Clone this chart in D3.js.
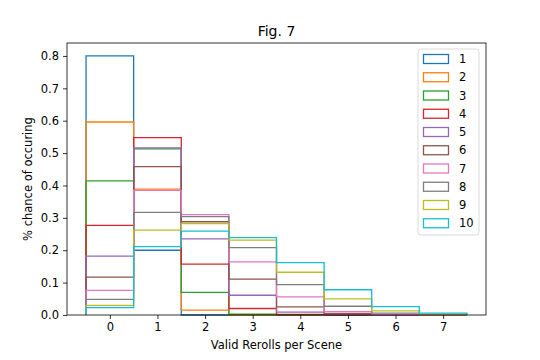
<!DOCTYPE html>
<html>
<head>
<meta charset="utf-8">
<script src="https://cdn.jsdelivr.net/npm/d3@7"></script>
<style>
  body { margin: 0; background: #fff; }
  svg { display: block; }
  text { font-family: "DejaVu Sans", sans-serif; }
</style>
</head>
<body>
<svg id="chart" width="540" height="360"></svg>
<script>
// ---- data ----
const categories = [0, 1, 2, 3, 4, 5, 6, 7];
const seriesNames = ["1", "2", "3", "4", "5", "6", "7", "8", "9", "10"];
const s1  = [0.800, 0.200, 0.000, 0.000, 0.000, 0.000, 0.000, 0.000];
const s2  = [0.596, 0.389, 0.015, 0.000, 0.000, 0.000, 0.000, 0.000];
const s3  = [0.414, 0.513, 0.070, 0.003, 0.000, 0.000, 0.000, 0.000];
const s4  = [0.277, 0.548, 0.157, 0.020, 0.002, 0.000, 0.000, 0.000];
const s5  = [0.182, 0.516, 0.235, 0.061, 0.009, 0.002, 0.000, 0.000];
const s6  = [0.117, 0.458, 0.288, 0.111, 0.025, 0.004, 0.001, 0.000];
const s7  = [0.076, 0.385, 0.310, 0.164, 0.056, 0.010, 0.002, 0.000];
const s8  = [0.048, 0.317, 0.304, 0.208, 0.094, 0.027, 0.006, 0.001];
const s9  = [0.030, 0.262, 0.282, 0.231, 0.132, 0.050, 0.013, 0.003];
const s10 = [0.023, 0.211, 0.259, 0.239, 0.162, 0.078, 0.026, 0.006];
const seriesValues = [s1, s2, s3, s4, s5, s6, s7, s8, s9, s10];
const yTicks = [0.0, 0.1, 0.2, 0.3, 0.4, 0.5, 0.6, 0.7, 0.8];
const colors = ["#1f77b4", "#ff7f0e", "#2ca02c", "#d62728", "#9467bd",
                "#8c564b", "#e377c2", "#7f7f7f", "#bcbd22", "#17becf"];

// ---- layout ----
const L = 67, R = 486, T = 43, B = 315;
const svg = d3.select("#chart");
const x = d3.scaleLinear().domain([-0.9, 7.9]).range([L, R]);
const y = d3.scaleLinear().domain([0, 0.84]).range([B, T]);

// histogram step outlines
const line = d3.line().x(d => x(d[0])).y(d => y(d[1]));
seriesValues.forEach((vals, si) => {
  const pts = [[categories[0] - 0.5, 0]];
  vals.forEach((v, i) => {
    pts.push([categories[i] - 0.5, v]);
    pts.push([categories[i] + 0.5, v]);
  });
  pts.push([categories[categories.length - 1] + 0.5, 0]);
  svg.append("path")
    .attr("d", line(pts))
    .attr("fill", "none")
    .attr("stroke", colors[si])
    .attr("stroke-width", 1.3)
    .attr("stroke-linejoin", "miter");
});

// axes
const xAxis = d3.axisBottom(x).tickValues(categories).tickFormat(d3.format("d"))
  .tickSize(4).tickPadding(4);
const yAxis = d3.axisLeft(y).tickValues(yTicks).tickFormat(d3.format(".1f"))
  .tickSize(4).tickPadding(4);

const gx = svg.append("g").attr("transform", `translate(0,${B})`).call(xAxis);
const gy = svg.append("g").attr("transform", `translate(${L},0)`).call(yAxis);
[gx, gy].forEach(g => {
  g.select(".domain").remove();
  g.selectAll(".tick line").attr("stroke", "#000").attr("stroke-width", 0.8);
  g.selectAll(".tick text").attr("fill", "#000").style("font-size", "11.5px")
    .style("font-family", "DejaVu Sans, sans-serif");
});

// spines
svg.append("rect")
  .attr("x", L).attr("y", T).attr("width", R - L).attr("height", B - T)
  .attr("fill", "none").attr("stroke", "#000").attr("stroke-width", 0.8);

// title and labels
svg.append("text").attr("x", (L + R) / 2).attr("y", 36)
  .attr("text-anchor", "middle").style("font-size", "14px").text("Fig. 7");
svg.append("text").attr("x", (L + R) / 2).attr("y", 349)
  .attr("text-anchor", "middle").style("font-size", "11.5px").text("Valid Rerolls per Scene");
svg.append("text")
  .attr("transform", `translate(32,${(T + B) / 2}) rotate(-90)`)
  .attr("text-anchor", "middle").style("font-size", "11.5px").text("% chance of occuring");

// legend
const lg = svg.append("g");
lg.append("rect").attr("x", 418).attr("y", 49).attr("width", 61).attr("height", 186)
  .attr("rx", 3).attr("fill", "#fff").attr("fill-opacity", 0.8)
  .attr("stroke", "#d0d0d0").attr("stroke-width", 0.8);
seriesNames.forEach((name, i) => {
  const cy = 59 + i * 18.25;
  lg.append("rect").attr("x", 423.5).attr("y", cy - 4.5).attr("width", 25).attr("height", 9)
    .attr("fill", "none").attr("stroke", colors[i]).attr("stroke-width", 1.3);
  lg.append("text").attr("x", 459).attr("y", cy + 4.2)
    .style("font-size", "11.5px").text(name);
});
</script>
</body>
</html>
